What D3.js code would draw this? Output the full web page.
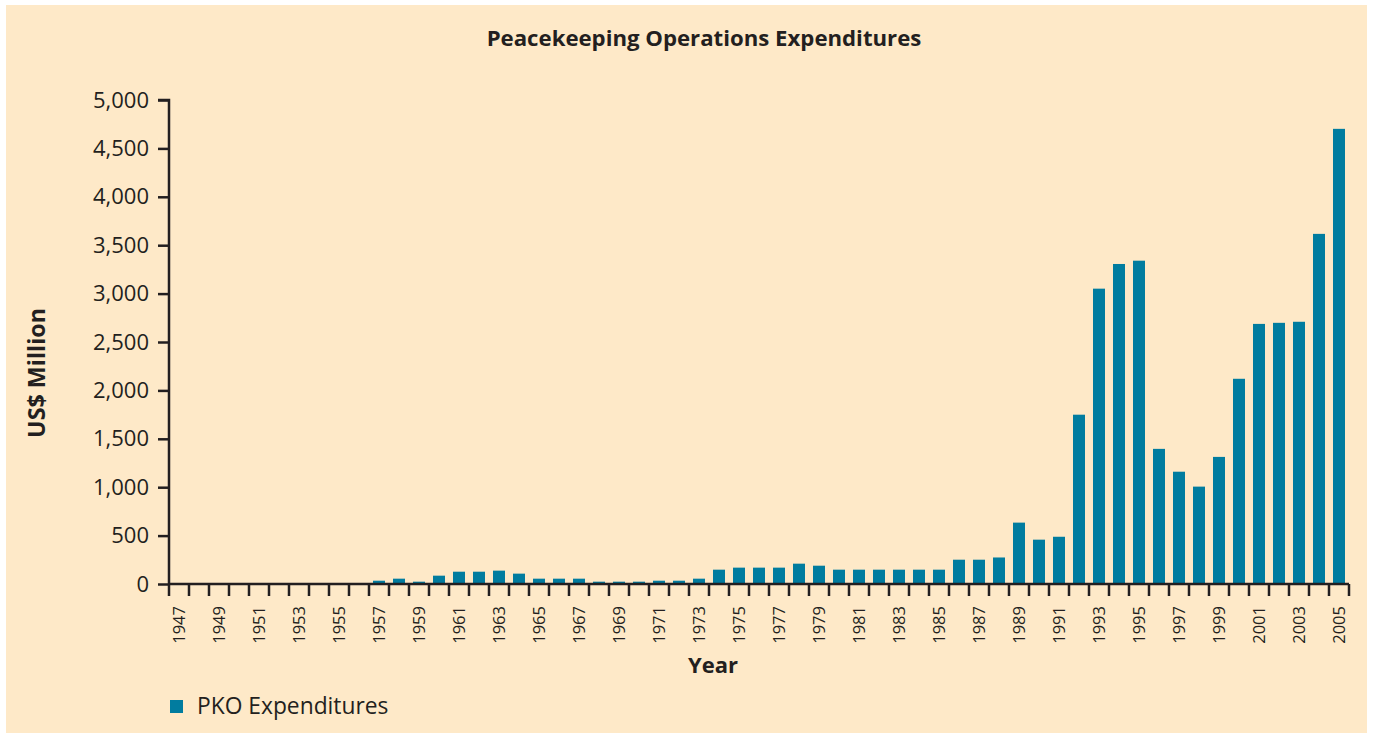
<!DOCTYPE html>
<html><head><meta charset="utf-8">
<script src="https://cdn.jsdelivr.net/npm/d3@7"></script>
<style>html,body{margin:0;padding:0;background:#fff;}svg{display:block;}</style>
</head><body>
<svg id="c" width="1374" height="735"></svg>
<script>
const years = d3.range(1947, 2006);
const values = [
  0,0,0,0,0,0,0,0,0,0,
  34,55,24,86,127,127,138,107,55,55,
  55,24,24,24,34,34,55,148,169,169,
  169,210,189,148,148,148,148,148,148,251,
  251,274,634,458,488,1749,3051,3306,3340,1396,
  1160,1006,1313,2120,2687,2698,2709,3617,4702
];
const yTicks = [0,500,1000,1500,2000,2500,3000,3500,4000,4500,5000];
const title = "Peacekeeping Operations Expenditures";
const yLabel = "US$ Million";
const xLabel = "Year";
const legendLabel = "PKO Expenditures";

const svg = d3.select("#c");
const font = "'Open Sans', sans-serif";
const ink = "#231f20";
const barColor = "#017c9f";

svg.append("rect").attr("x",6).attr("y",5).attr("width",1361).attr("height",728).attr("fill","#fee9c8");

const x = d3.scaleBand().domain(years).range([169,1349]).paddingInner(0.4).paddingOuter(0.2);
const y = d3.scaleLinear().domain([0,5000]).range([584,100]);

svg.append("g").selectAll("rect").data(values).join("rect")
  .attr("x",(d,i)=>x(years[i]))
  .attr("width",x.bandwidth())
  .attr("y",d=>y(d))
  .attr("height",d=>y(0)-y(d))
  .attr("fill",barColor);

// y axis
const ya = svg.append("g").attr("transform","translate(169,0)")
  .call(d3.axisLeft(y).tickValues(yTicks).tickSize(11).tickPadding(9).tickFormat(d3.format(",")));
ya.select(".domain").attr("stroke",ink).attr("stroke-width",2.5).attr("d","M-11,100H0V584");
ya.selectAll(".tick line").attr("stroke",ink).attr("stroke-width",2.5);
ya.selectAll("text").attr("font-family",font).attr("font-size",22).attr("fill",ink);

// x axis baseline and ticks at band boundaries
const step = x.step();
const x0 = x.range()[0];
const bounds = d3.range(years.length+1).map(i=>x0+i*step);
svg.append("line").attr("x1",169).attr("x2",1349).attr("y1",584).attr("y2",584).attr("stroke",ink).attr("stroke-width",2.5);
svg.append("g").selectAll("line").data(bounds).join("line")
  .attr("x1",d=>d).attr("x2",d=>d).attr("y1",584).attr("y2",596)
  .attr("stroke",ink).attr("stroke-width",2.5);
svg.append("g").selectAll("text").data(years.filter(yr=>(yr-1947)%2===0)).join("text")
  .attr("transform",d=>`translate(${x(d)+x.bandwidth()/2+6},606) rotate(-90)`)
  .attr("text-anchor","end")
  .attr("font-family",font).attr("font-size",16.5).attr("fill",ink)
  .text(d=>d);

svg.append("text").attr("x",704).attr("y",46).attr("text-anchor","middle")
  .attr("font-family",font).attr("font-weight","bold").attr("font-size",22.2).attr("fill",ink).text(title);
svg.append("text").attr("transform","translate(45,373) rotate(-90)").attr("text-anchor","middle")
  .attr("font-family",font).attr("font-weight","bold").attr("font-size",23.3).attr("fill",ink).text(yLabel);
svg.append("text").attr("x",713).attr("y",673).attr("text-anchor","middle")
  .attr("font-family",font).attr("font-weight","bold").attr("font-size",22).attr("fill",ink).text(xLabel);

svg.append("rect").attr("x",170).attr("y",700).attr("width",13).attr("height",13).attr("fill",barColor);
svg.append("text").attr("x",197).attr("y",714)
  .attr("font-family",font).attr("font-size",22.8).attr("fill",ink).text(legendLabel);
</script>
</body></html>
